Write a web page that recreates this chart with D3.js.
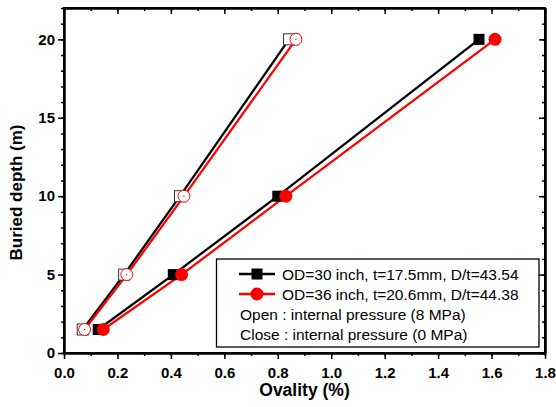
<!DOCTYPE html>
<html><head><meta charset="utf-8">
<script src="https://cdn.jsdelivr.net/npm/d3@7"></script>
<style>body{margin:0;background:#fff}svg{display:block}text{font-family:Arial,"Liberation Sans",sans-serif}</style>
</head><body>
<script>
const depth = [1.5, 5, 10, 20];
const od30Closed = [0.128, 0.409, 0.800, 1.553];
const od36Closed = [0.147, 0.440, 0.830, 1.613];
const od30Open = [0.070, 0.225, 0.434, 0.842];
const od36Open = [0.077, 0.235, 0.449, 0.868];
const xTicks = [0, 0.2, 0.4, 0.6, 0.8, 1.0, 1.2, 1.4, 1.6, 1.8];
const yTicks = [0, 5, 10, 15, 20];
const legendLabels = ["OD=30 inch, t=17.5mm, D/t=43.54", "OD=36 inch, t=20.6mm, D/t=44.38", "Open : internal pressure (8 MPa)", "Close : internal pressure (0 MPa)"];

const W = 556, H = 407;
const L = 64, R = 545, T = 8, B = 353;
const svg = d3.select("body").append("svg").attr("width", W).attr("height", H);
const x = d3.scaleLinear().domain([0, 1.8]).range([L, R]);
const y = d3.scaleLinear().domain([0, 22]).range([B, T]);

const minorX = d3.range(0, 1.81, 0.1);
const minorY = d3.range(0, 22.01, 1);

const gb = svg.append("g").attr("transform", `translate(0,${B})`)
  .call(d3.axisBottom(x).tickValues(xTicks).tickFormat(d3.format(".1f")).tickSize(6).tickSizeOuter(0));
svg.append("g").attr("transform", `translate(0,${B})`)
  .call(d3.axisBottom(x).tickValues(minorX).tickFormat("").tickSize(3).tickSizeOuter(0));
svg.append("g").attr("transform", `translate(${L},0)`)
  .call(d3.axisLeft(y).tickValues(yTicks).tickSize(6).tickSizeOuter(0));
svg.append("g").attr("transform", `translate(${L},0)`)
  .call(d3.axisLeft(y).tickValues(minorY).tickFormat("").tickSize(3).tickSizeOuter(0));
svg.append("g").attr("transform", `translate(0,${T})`)
  .call(d3.axisTop(x).tickValues(xTicks).tickFormat("").tickSize(-6).tickSizeOuter(0));
svg.append("g").attr("transform", `translate(0,${T})`)
  .call(d3.axisTop(x).tickValues(minorX).tickFormat("").tickSize(-3).tickSizeOuter(0));
svg.append("g").attr("transform", `translate(${R},0)`)
  .call(d3.axisRight(y).tickValues(yTicks).tickFormat("").tickSize(-6).tickSizeOuter(0));
svg.append("g").attr("transform", `translate(${R},0)`)
  .call(d3.axisRight(y).tickValues(minorY).tickFormat("").tickSize(-3).tickSizeOuter(0));

svg.selectAll(".domain").attr("stroke", "#000").attr("stroke-width", 2);
svg.selectAll(".tick line").attr("stroke", "#000").attr("stroke-width", 1.5);
svg.selectAll(".tick text").attr("font-size", 15).attr("font-weight", "bold").attr("fill", "#000");
gb.selectAll(".tick text").attr("dy", "1.05em");

svg.append("rect").attr("x", L).attr("y", T).attr("width", R - L).attr("height", B - T)
  .attr("fill", "none").attr("stroke", "#000").attr("stroke-width", 2);

svg.append("text").attr("x", (L + R) / 2).attr("y", 396).attr("text-anchor", "middle")
  .attr("font-size", 17.5).attr("font-weight", "bold").text("Ovality (%)");
svg.append("text").attr("transform", `translate(22,${(T + B) / 2 + 12}) rotate(-90)`).attr("text-anchor", "middle")
  .attr("font-size", 17).attr("font-weight", "bold").text("Buried depth (m)");

const line = d3.line().x(d => x(d[0])).y(d => y(d[1]));
const pts = arr => arr.map((v, i) => [v, depth[i]]);

function drawLine(arr, color) {
  svg.append("path").datum(pts(arr)).attr("d", line).attr("fill", "none")
    .attr("stroke", color).attr("stroke-width", 2.3);
}
drawLine(od30Open, "#000");
drawLine(od36Open, "#f00");
drawLine(od30Closed, "#000");
drawLine(od36Closed, "#f00");

function squares(arr, filled) {
  svg.append("g").selectAll("rect").data(pts(arr)).join("rect")
    .attr("x", d => x(d[0]) - 5.5).attr("y", d => y(d[1]) - 5.5).attr("width", 11).attr("height", 11)
    .attr("fill", filled ? "#000" : "#fff").attr("stroke", filled ? "#000" : "#333").attr("stroke-width", filled ? 0 : 1);
}
function circles(arr, filled) {
  const g = svg.append("g");
  g.selectAll("circle").data(pts(arr)).join("circle")
    .attr("cx", d => x(d[0])).attr("cy", d => y(d[1])).attr("r", filled ? 6.5 : 6)
    .attr("fill", filled ? "#f00" : "#fff").attr("stroke", "#f00").attr("stroke-width", filled ? 0 : 1);
  if (!filled) {
    g.selectAll("circle.dot").data(pts(arr)).join("circle").attr("class", "dot")
      .attr("cx", d => x(d[0])).attr("cy", d => y(d[1])).attr("r", 0.7).attr("fill", "#f00");
  }
}
squares(od30Open, false);
circles(od36Open, false);
squares(od30Closed, true);
circles(od36Closed, true);

const lg = svg.append("g");
lg.append("rect").attr("x", 216.5).attr("y", 259).attr("width", 322.5).attr("height", 88)
  .attr("fill", "#fff").attr("stroke", "#000").attr("stroke-width", 1.3);
const rowsY = [274, 294, 314, 334];
[["#000", "sq"], ["#f00", "ci"]].forEach((s, i) => {
  lg.append("line").attr("x1", 239).attr("x2", 275).attr("y1", rowsY[i]).attr("y2", rowsY[i])
    .attr("stroke", s[0]).attr("stroke-width", 2.3);
  if (s[1] === "sq") lg.append("rect").attr("x", 257 - 5.5).attr("y", rowsY[i] - 5.5).attr("width", 11).attr("height", 11).attr("fill", "#000");
  else lg.append("circle").attr("cx", 257).attr("cy", rowsY[i]).attr("r", 6.5).attr("fill", "#f00");
});
legendLabels.forEach((t, i) => {
  lg.append("text").attr("x", i < 2 ? 282 : 240).attr("y", rowsY[i] + 5.5).attr("font-size", 15.5).attr("fill", "#000").text(t);
});
</script>
</body></html>
